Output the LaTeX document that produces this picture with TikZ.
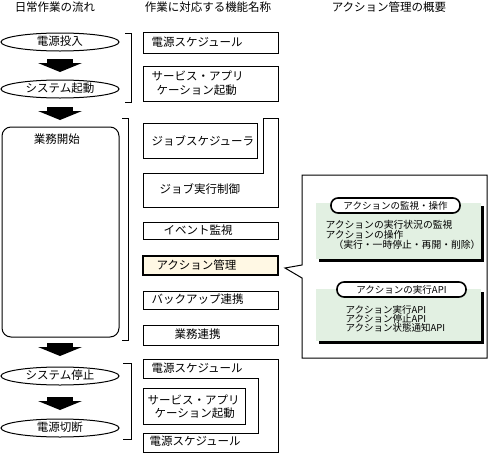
\documentclass[tikz,border=0pt]{standalone}
\usepackage{fontspec}
\setmainfont{Noto Sans CJK JP}
\usetikzlibrary{shapes.geometric}
\definecolor{cream}{RGB}{255,248,228}
\definecolor{mint}{RGB}{226,240,226}
\begin{document}
\begin{tikzpicture}[x=1pt,y=-1pt, line width=1pt,
  txt/.style={inner sep=0pt, anchor=west, text height=0.88em, text depth=0.12em, font=\fontsize{11.5}{13}\selectfont},
  ctxt/.style={txt, anchor=center},
  stxt/.style={txt, font=\fontsize{9.8}{11}\selectfont},
  atxt/.style={txt, font=\fontsize{9.5}{10}\selectfont},
  flow/.style={ellipse, draw, minimum width=118pt, minimum height=18pt, inner sep=0pt, text height=0.88em, text depth=0.12em, font=\fontsize{11.5}{13}\selectfont},
  pill/.style={draw, fill=white, line width=1.6pt, rounded corners=7pt, minimum width=129pt, minimum height=15pt, inner sep=0pt, text height=0.88em, text depth=0.12em, font=\fontsize{9.5}{10}\selectfont},
  shadowbox/.style={fill=black},
  greenbox/.style={fill=mint},
  blockarrow/.pic={\fill (-13,0) rectangle (13,4); \fill (-22,4) -- (22,4) -- (0,13) -- cycle;}
]
\useasboundingbox (0,0) rectangle (488,453);

% headers
\node[ctxt] (h1) at (55,7.5) {日常作業の流れ};
\node[ctxt] (h2) at (208,7.5) {作業に対応する機能名称};
\node[ctxt] (h3) at (389,7.5) {アクション管理の概要};

% left flow
\node[flow] (e1) at (60,42) {電源投入};
\pic at (60,59) {blockarrow};
\node[flow] (e2) at (60,89) {システム起動};
\pic at (60,107) {blockarrow};
\draw[rounded corners=9pt] (2,127) rectangle (119,337);
\node[ctxt] (work) at (57,140) {業務開始};
\pic at (60,343) {blockarrow};
\node[flow] (e3) at (60,376) {システム停止};
\pic at (60,397) {blockarrow};
\node[flow] (e4) at (60,428) {電源切断};

% brackets
\draw (125,33) -- (131,33) -- (131,102) -- (125,102);
\draw (122,118) -- (128,118) -- (128,340) -- (122,340);
\draw (123,363) -- (131,363) -- (131,439) -- (123,439);

% middle column
\draw (143,32) rectangle (278,53);
\node[txt] (m1) at (151,42.5) {電源スケジュール};
\draw (143,66) rectangle (278,101);
\node[txt] (m2a) at (151,77) {サービス・アプリ};
\node[txt] (m2b) at (156,91) {ケーション起動};
\draw (143,123) rectangle (257,158);
\node[txt] (m3) at (151,142) {ジョブスケジューラ};
\draw (143,173) -- (263,173) -- (263,118) -- (278,118) -- (278,207) -- (143,207) -- cycle;
\node[txt] (m4) at (159,190) {ジョブ実行制御};
\draw (143,222) rectangle (278,239);
\node[txt] (m5) at (163,231) {イベント監視};
\draw[line width=2pt, fill=cream] (143,256) rectangle (278,275);
\node[txt] (m6) at (156,265.5) {アクション管理};
\draw (143,291) rectangle (278,309);
\node[txt] (m7) at (151,300) {バックアップ連携};
\draw (143,325) rectangle (278,345);
\node[txt] (m8) at (174,335) {業務連携};

% bottom group
\draw (143,359) -- (278,359) -- (278,452) -- (143,452) -- (143,433) -- (258,433) -- (258,378) -- (143,378) -- cycle;
\node[txt] (m9) at (151,369) {電源スケジュール};
\draw (143,388) rectangle (245,424);
\node[txt] (m10a) at (147,401) {サービス・アプリ};
\node[txt] (m10b) at (154,414) {ケーション起動};
\node[txt] (m11) at (149,442) {電源スケジュール};

% callout
\coordinate (tip) at (285,268);
\draw (302,175) -- (487,175) -- (487,358) -- (302,358) -- (302,278) -- (tip) -- (302,265) -- cycle;

% green box 1
\fill[shadowbox] (319,206) rectangle (484,262);
\fill[greenbox] (316,203) rectangle (481,259);
\node[pill] (p1) at (395.5,205.5) {アクションの監視・操作};
\node[stxt] (g1) at (325,225) {アクションの実行状況の監視};
\node[stxt] (g2) at (325,235) {アクションの操作};
\node[stxt] (g3) at (333,245) {（実行・一時停止・再開・削除）};

% green box 2
\fill[shadowbox] (319,292) rectangle (484,344);
\fill[greenbox] (316,289) rectangle (481,341);
\node[pill] (p2) at (401.5,289.5) {アクションの実行API};
\node[atxt] (k1) at (345,310) {アクション実行API};
\node[atxt] (k2) at (345,319) {アクション停止API};
\node[atxt] (k3) at (345,328) {アクション状態通知API};
\end{tikzpicture}
\end{document}
